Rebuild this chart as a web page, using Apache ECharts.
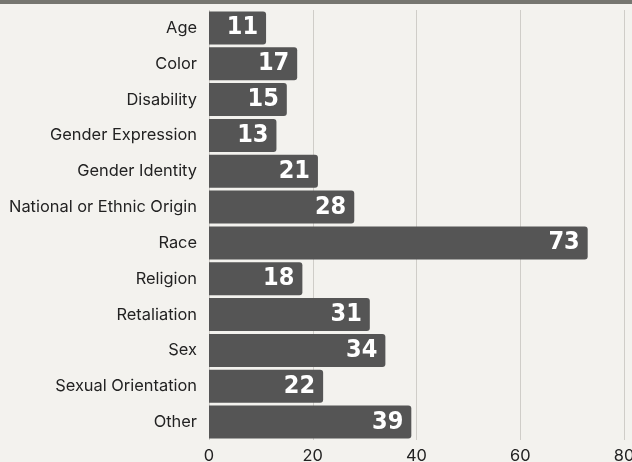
<!DOCTYPE html>
<html>
<head>
<meta charset="utf-8">
<script src="https://cdn.jsdelivr.net/npm/echarts@6/dist/echarts.min.js"></script>
<style>
  html, body { margin: 0; padding: 0; background: #f3f2ee; }
  #topbar { position: absolute; left: 0; top: 0; width: 632px; height: 4px; background: #767670; }
  #chart { width: 632px; height: 462px; }
</style>
</head>
<body>
<div id="topbar"></div>
<div id="chart"></div>
<script>
const categories = ['Age', 'Color', 'Disability', 'Gender Expression', 'Gender Identity',
  'National or Ethnic Origin', 'Race', 'Religion', 'Retaliation', 'Sex',
  'Sexual Orientation', 'Other'];
const counts = [11, 17, 15, 13, 21, 28, 73, 18, 31, 34, 22, 39];
const xTicks = [0, 20, 40, 60, 80];

const chart = echarts.init(document.getElementById('chart'));

const option = {
  backgroundColor: 'transparent',
  animation: false,
  grid: { left: 209, right: 8, top: 10, bottom: 22, containLabel: false, outerBoundsMode: 'none' },
  xAxis: {
    type: 'value',
    min: xTicks[0],
    max: xTicks[xTicks.length - 1],
    interval: 20,
    axisLine: { show: false },
    axisTick: { show: false },
    axisLabel: { color: '#222', fontFamily: 'Inter', fontSize: 16.4, margin: 8 },
    splitLine: { lineStyle: { color: '#cfcdc8', width: 1 } }
  },
  yAxis: {
    type: 'category',
    inverse: true,
    data: categories,
    axisLine: { show: false },
    axisTick: { show: false },
    axisLabel: { color: '#222', fontFamily: 'Inter', fontSize: 16.4, margin: 12 }
  },
  series: [{
    type: 'bar',
    data: counts,
    barCategoryGap: '8%',
    itemStyle: { color: '#555555', borderRadius: [0, 3, 3, 0] },
    label: {
      show: true,
      position: 'insideRight',
      distance: 8,
      color: '#fff',
      fontFamily: 'DejaVu Sans Condensed',
      fontWeight: 'bold',
      fontSize: 25
    }
  }]
};

chart.setOption(option);
</script>
</body>
</html>
